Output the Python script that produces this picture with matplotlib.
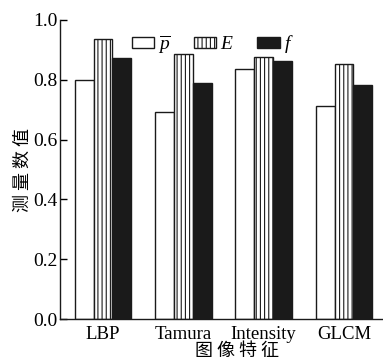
import matplotlib
matplotlib.use("Agg")
import matplotlib.pyplot as plt
import numpy as np

plt.rcParams['hatch.linewidth'] = 0.8
plt.rcParams['mathtext.fontset'] = 'custom'
plt.rcParams['mathtext.it'] = 'Liberation Serif:italic'
plt.rcParams['mathtext.rm'] = 'Liberation Serif'

categories = ["LBP", "Tamura", "Intensity", "GLCM"]
p_vals = [0.80, 0.693, 0.837, 0.712]
E_vals = [0.935, 0.885, 0.876, 0.854]
f_vals = [0.872, 0.788, 0.862, 0.782]
series_labels = [r"$\overline{p}$", r"$E$", r"$f$"]
yticks = [0.0, 0.2, 0.4, 0.6, 0.8, 1.0]

fig = plt.figure(figsize=(3.83, 3.61), dpi=100)
ax = fig.add_axes([60/383, 42/361, 323/383, 299/361])

x = np.arange(len(categories))
w = 0.235
serif = ["Liberation Serif", "DejaVu Serif"]
cjk = ["Noto Sans CJK SC", "DejaVu Sans"]

ax.bar(x - w, p_vals, w, color="white", edgecolor="#1a1a1a", linewidth=1.0, label=series_labels[0])
ax.bar(x, E_vals, w, color="white", edgecolor="#1a1a1a", linewidth=1.0, hatch="||||", label=series_labels[1])
ax.bar(x + w, f_vals, w, color="#1a1a1a", edgecolor="#1a1a1a", linewidth=1.0, label=series_labels[2])

ax.set_xlim(-0.5 - 0.035, 3.5 - 0.015)
ax.set_ylim(0, 1.0)
ax.set_yticks(yticks)
ax.set_yticklabels([f"{t:.1f}" for t in yticks], fontfamily=serif, fontsize=14)
ax.set_xticks(x)
ax.set_xticklabels(categories, fontfamily=serif, fontsize=13.5)
ax.tick_params(axis='y', direction='in', length=5, width=1, pad=2)
ax.tick_params(axis='x', length=0, pad=5)
for s in ["top", "right"]:
    ax.spines[s].set_visible(False)
for s in ["left", "bottom"]:
    ax.spines[s].set_linewidth(1.0)
    ax.spines[s].set_color("#1a1a1a")

ax.set_ylabel("测 量 数 值", fontfamily=cjk, fontsize=13, labelpad=1)
ax.set_xlabel("图 像 特 征", fontfamily=cjk, fontsize=13, labelpad=-1)
ax.xaxis.set_label_coords(0.548, -0.078)

ax.legend(loc="upper center", bbox_to_anchor=(0.472, 0.995), ncol=3, frameon=False,
          prop={"family": serif, "size": 14}, handlelength=1.15, handleheight=0.55,
          columnspacing=1.2, handletextpad=0.2, borderaxespad=0.2)

fig.savefig("out.png", dpi=100)
